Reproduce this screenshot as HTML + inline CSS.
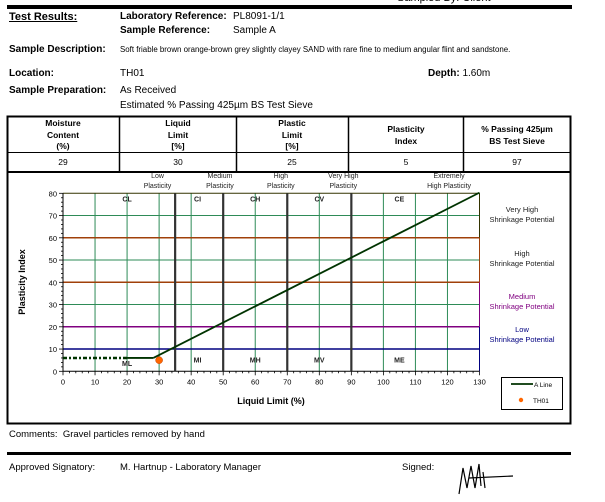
<!DOCTYPE html>
<html><head><meta charset="utf-8"><style>
body{margin:0;width:605px;height:502px;background:#fff;font-family:"Liberation Sans",sans-serif;position:relative;overflow:hidden;color:#000}
.t{position:absolute;font-size:10px;white-space:nowrap}
.b{font-weight:bold}
</style></head><body>
<div style="position:absolute;left:7px;top:5px;width:565px;height:4px;background:#000"></div>
<div class="t" style="left:397px;top:-8px;font-size:11px">Sampled By: Client</div>
<div class="t b" style="left:9px;top:11px;text-decoration:underline;font-size:11px">Test Results:</div>
<div class="t b" style="left:120px;top:11px">Laboratory Reference:</div>
<div class="t" style="left:233px;top:11px">PL8091-1/1</div>
<div class="t b" style="left:120px;top:25px">Sample Reference:</div>
<div class="t" style="left:233px;top:25px">Sample A</div>
<div class="t b" style="left:9px;top:44px">Sample Description:</div>
<div class="t" style="left:120px;top:45px;font-size:7.9px">Soft friable brown orange-brown grey slightly clayey SAND with rare fine to medium angular flint and sandstone.</div>
<div class="t b" style="left:9px;top:68px">Location:</div>
<div class="t" style="left:120px;top:68px">TH01</div>
<div class="t" style="left:428px;top:68px"><b>Depth:</b> 1.60m</div>
<div class="t b" style="left:9px;top:85px">Sample Preparation:</div>
<div class="t" style="left:120px;top:85px">As Received</div>
<div class="t" style="left:120px;top:100px">Estimated % Passing 425µm BS Test Sieve</div>

<svg width="605" height="502" style="position:absolute;left:0;top:0" font-family="Liberation Sans, sans-serif">
<g stroke="#000" fill="none">
<rect x="7.5" y="116.5" width="563" height="307" stroke-width="2"/>
<line x1="7" y1="152.5" x2="571" y2="152.5"/>
<line x1="7" y1="172" x2="571" y2="172" stroke-width="2"/>
<line x1="119.5" y1="116" x2="119.5" y2="172" stroke-width="1.5"/>
<line x1="236.5" y1="116" x2="236.5" y2="172" stroke-width="1.5"/>
<line x1="348.5" y1="116" x2="348.5" y2="172" stroke-width="1.5"/>
<line x1="463.5" y1="116" x2="463.5" y2="172" stroke-width="1.5"/>
</g>
<g font-size="8.5" font-weight="bold" text-anchor="middle">
<text x="63" y="126">Moisture</text><text x="63" y="138">Content</text><text x="63" y="149">(%)</text>
<text x="178" y="126">Liquid</text><text x="178" y="138">Limit</text><text x="178" y="149">[%]</text>
<text x="292" y="126">Plastic</text><text x="292" y="138">Limit</text><text x="292" y="149">[%]</text>
<text x="406" y="132">Plasticity</text><text x="406" y="144">Index</text>
<text x="517" y="132">% Passing 425µm</text><text x="517" y="144">BS Test Sieve</text>
</g>
<g font-size="8.5" text-anchor="middle">
<text x="63" y="165">29</text><text x="178" y="165">30</text><text x="292" y="165">25</text><text x="406" y="165">5</text><text x="517" y="165">97</text>
</g>
<g id="plot"></g>
</svg>

<div class="t" style="left:9px;top:429px;font-size:9.5px">Comments:&nbsp; Gravel particles removed by hand</div>
<div style="position:absolute;left:7px;top:452px;width:564px;height:3px;background:#000"></div>
<div class="t" style="left:9px;top:462px;font-size:9.5px">Approved Signatory:</div>
<div class="t" style="left:120px;top:462px;font-size:9.5px">M. Hartnup - Laboratory Manager</div>
<div class="t" style="left:402px;top:462px;font-size:9.5px">Signed:</div>
<svg width="70" height="40" style="position:absolute;left:455px;top:458px"><path d="M4 36 L8 10 L12 30 L16 8 L20 30 L24 6 L26 28 M14 20 L58 18 M28 14 L30 30" stroke="#000" fill="none" stroke-width="1.2"/></svg>

<script>
const xTicks=[0,10,20,30,40,50,60,70,80,90,100,110,120,130];
const yTicks=[0,10,20,30,40,50,60,70,80];
const plasticityBounds=[35,50,70,90];
const shrinkLevels=[10,20,40,60];
const shrinkColors=["#000080","#800080","#a0400a","#a0400a"];
const aLineX=[28.2,130];
const aLineY=[6,80.3];
const flatLineX=[20,28.2];
const flatLineY=[6,6];
const dashX=[0,20];
const dashY=[6,6];
const sampleLL=[30];
const samplePI=[5];
const NS="http://www.w3.org/2000/svg";
const X0=63,X1=479.5,Y0=371.3,Y1=193.3;
const sx=v=>X0+(v-0)*(X1-X0)/130;
const sy=v=>Y0-(v-0)*(Y0-Y1)/80;
const g=document.getElementById('plot');
function mk(tag,a,txt){const e=document.createElementNS(NS,tag);for(const k in a)e.setAttribute(k,a[k]);if(txt!==undefined)e.textContent=txt;g.appendChild(e);return e;}
xTicks.forEach(v=>{if(v>0&&v<130){const l=mk('line',{x1:sx(v),x2:sx(v),y1:Y1,y2:Y0,stroke:'#2e8b57','stroke-width':1});

}
const t=mk('text',{x:sx(v),y:Y0+13,'font-size':7.5,'text-anchor':'middle'},v);


});
yTicks.forEach(v=>{if(v>0&&v<80){const l=mk('line',{x1:X0,x2:X1,y1:sy(v),y2:sy(v),stroke:'#2e8b57','stroke-width':1});

}
const t=mk('text',{x:X0-6,y:sy(v)+3,'font-size':7.5,'text-anchor':'end'},v);


});
for(let v=0;v<=130;v+=2){mk('line',{x1:sx(v),x2:sx(v),y1:Y0,y2:Y0+(v%10?2:4),stroke:'#000','stroke-width':0.8});}
for(let v=0;v<=80;v+=2){mk('line',{x1:X0,x2:X0-(v%10?2:4),y1:sy(v),y2:sy(v),stroke:'#000','stroke-width':0.8});}
shrinkLevels.forEach((v,i)=>{const l=mk('line',{x1:X0,x2:X1,y1:sy(v),y2:sy(v),stroke:shrinkColors[i],'stroke-width':1.5});


});
mk('line',{x1:X0,x2:X1,y1:Y1,y2:Y1,stroke:'#333300','stroke-width':1});
mk('line',{x1:X1,x2:X1,y1:Y1,y2:sy(60),stroke:'#333300'});
mk('line',{x1:X1,x2:X1,y1:sy(60),y2:sy(40),stroke:'#a0400a'});
mk('line',{x1:X1,x2:X1,y1:sy(40),y2:sy(20),stroke:'#800080'});
mk('line',{x1:X1,x2:X1,y1:sy(20),y2:Y0,stroke:'#000080'});
mk('line',{x1:X0,x2:X0,y1:Y1,y2:Y0,stroke:'#000'});
mk('line',{x1:X0,x2:X1,y1:Y0,y2:Y0,stroke:'#000'});
plasticityBounds.forEach(v=>{const l=mk('line',{x1:sx(v),x2:sx(v),y1:Y1,y2:Y0,stroke:'#333','stroke-width':2.2});


});
const dl=mk('line',{x1:sx(dashX[0]),x2:sx(dashX[1]),y1:sy(dashY[0]),y2:sy(dashY[1]),stroke:'#003300','stroke-width':2.5,'stroke-dasharray':'4,2,2,2'});


const fl=mk('line',{x1:sx(flatLineX[0]),x2:sx(flatLineX[1]),y1:sy(flatLineY[0]),y2:sy(flatLineY[1]),stroke:'#003300','stroke-width':1.8});


const al=mk('line',{x1:sx(aLineX[0]),x2:sx(aLineX[1]),y1:sy(aLineY[0]),y2:sy(aLineY[1]),stroke:'#003300','stroke-width':1.8});


sampleLL.forEach((v,i)=>{const c=mk('circle',{cx:sx(v),cy:sy(samplePI[i]),r:3.5,fill:'#ff6600',stroke:'#c04000','stroke-width':0.5});


});
const zones=[["CL",20,75],["CI",42,75],["CH",60,75],["CV",80,75],["CE",105,75],["ML",20,1],["MI",42,2.5],["MH",60,2.5],["MV",80,2.5],["ME",105,2.5]];
zones.forEach(z=>{const t=mk('text',{x:sx(z[1]),y:sy(z[2])-3,'font-size':7,'font-weight':'bold','text-anchor':'middle',fill:'#222'},z[0]);


});
const plast=[["Low","Plasticity",29.5],["Medium","Plasticity",49],["High","Plasticity",68],["Very High","Plasticity",87.5],["Extremely","High Plasticity",120.5]];
plast.forEach(p=>{mk('text',{x:sx(p[2]),y:178,'font-size':7,'text-anchor':'middle',fill:'#222'},p[0]);
const t=mk('text',{x:sx(p[2]),y:188,'font-size':7,'text-anchor':'middle',fill:'#222'},p[1]);


});
const shr=[["Very High",212,'#222'],["High",256,'#222'],["Medium",299,'#800080'],["Low",332,'#000080']];
shr.forEach(s=>{mk('text',{x:522,y:s[1],'font-size':7.5,'text-anchor':'middle',fill:s[2]},s[0]);
const t=mk('text',{x:522,y:s[1]+10,'font-size':7.5,'text-anchor':'middle',fill:s[2]},'Shrinkage Potential');


});
const xt=mk('text',{x:271,y:404,'font-size':9,'font-weight':'bold','text-anchor':'middle'},'Liquid Limit (%)');


const yt=mk('text',{x:0,y:0,'font-size':9,'font-weight':'bold','text-anchor':'middle',transform:'translate(25,282) rotate(-90)'},'Plasticity Index');


const lg=mk('rect',{x:501.5,y:377.5,width:61,height:32,fill:'#fff',stroke:'#000'});


mk('line',{x1:511,x2:533,y1:384,y2:384,stroke:'#003300','stroke-width':1.8});
const l1=mk('text',{x:534,y:387,'font-size':6.5},'A Line');


mk('circle',{cx:521,cy:400,r:2.2,fill:'#ff6600'});
const l2=mk('text',{x:533,y:403,'font-size':6.5},'TH01');


</script>
</body></html>
